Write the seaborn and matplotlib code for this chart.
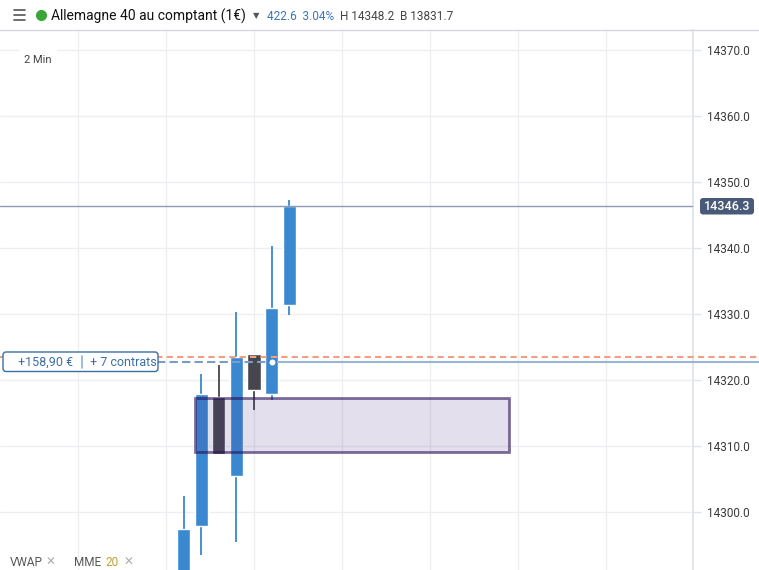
import numpy as np
import pandas as pd
import matplotlib
matplotlib.use("Agg")
import matplotlib.pyplot as plt
import seaborn as sns
from matplotlib.lines import Line2D
from matplotlib.patches import Rectangle, FancyBboxPatch

# Candle data (2 min bars)
candle_idx = [1, 2, 3, 4, 5, 6, 7]
opens = [14288.0, 14297.8, 14317.4, 14305.4, 14323.9, 14317.8, 14331.3]
closes = [14297.4, 14317.9, 14308.8, 14323.4, 14318.4, 14330.9, 14346.3]
highs = [14302.4, 14320.9, 14322.3, 14330.3, 14323.9, 14340.3, 14347.3]
lows = [14285.0, 14293.4, 14308.8, 14295.4, 14315.4, 14316.9, 14329.9]

price_ticks = [14300, 14310, 14320, 14330, 14340, 14350, 14360, 14370]
last_price = 14346.3
order_price = 14323.5
position_price = 14322.7
zone_x = [1.65, 19.5]
zone_y = [14309.1, 14317.2]

df = pd.DataFrame({"idx": candle_idx, "open": opens, "close": closes,
                   "high": highs, "low": lows})
df["up"] = df["close"] >= df["open"]

BLUE = "#3a88cf"
DARK = "#46464f"
W, H = 759, 570

sns.set_theme(style="white")
plt.rcParams["font.family"] = ["Roboto", "DejaVu Sans"]

fig = plt.figure(figsize=(7.59, 5.70), dpi=100)
ax = fig.add_axes([0, 0, 693 / W, 540 / H])
ax.set_xlim(-9.43, 29.94)
ax.set_ylim(14291.2, 14373.0)

# pixel helper (inches from bottom-left)
def px_box(x0, y0, x1, y1, **kw):
    p = FancyBboxPatch((x0 / 100, (H - y1) / 100), (x1 - x0) / 100, (y1 - y0) / 100,
                       transform=fig.dpi_scale_trans, **kw)
    fig.add_artist(p)
    return p

# grid
for gx in range(-5, 30, 5):
    ax.axvline(gx, color="#eeeff2", lw=1, zorder=0)
for gy in price_ticks:
    ax.axhline(gy, color="#eeeff2", lw=1, zorder=0)

# candles
colors = [BLUE if u else DARK for u in df["up"]]
ax.vlines(df["idx"], df["low"], df["high"], colors=colors, lw=1.3, zorder=2)
bottoms = np.minimum(df["open"], df["close"])
heights = np.abs(df["close"] - df["open"])
ax.bar(df["idx"], heights, bottom=bottoms, width=0.74, color=colors, zorder=3)

# zone rectangle
rect = Rectangle((zone_x[0], zone_y[0]), zone_x[1] - zone_x[0], zone_y[1] - zone_y[0],
                 facecolor=(68 / 255, 42 / 255, 136 / 255, 0.15),
                 edgecolor=(40 / 255, 15 / 255, 90 / 255, 0.6), lw=2, zorder=4)
ax.add_patch(rect)

# price lines
ax.plot([-9.43, 29.94], [last_price, last_price], color="#8a9bb5", lw=1, zorder=5)
ax.plot([-9.43, 33.8], [order_price, order_price], color="#f0a080", lw=1.5,
        ls=(0, (3, 2)), clip_on=False, zorder=5)
ax.plot([-0.5, 6.05], [position_price, position_price], color="#7a9cc6", lw=1.5,
        ls=(0, (4, 2)), zorder=5)
ax.plot([6.05, 33.8], [position_price, position_price], color="#9ab5d5", lw=1.5,
        clip_on=False, zorder=5)
sns.scatterplot(x=[6.05], y=[position_price], s=30, color="white",
                edgecolor=BLUE, linewidth=1.2, zorder=6, ax=ax, legend=False)

# position label
px_box(3, 352, 158, 371.5, boxstyle="round,pad=0,rounding_size=0.03",
       fc="white", ec="#3b6ea5", lw=1, zorder=7)
fig.text(18 / W, 1 - 362 / H, "+158,90 €", ha="left", va="center", fontsize=9,
         color="#3b6ea5", zorder=8)
fig.add_artist(Line2D([82 / W, 82 / W], [1 - 356 / H, 1 - 368 / H], color="#8fb0d8",
                      lw=1.2, zorder=8))
fig.text(90 / W, 1 - 362 / H, "+ 7 contrats", ha="left", va="center", fontsize=9,
         color="#3b6ea5", zorder=8)

# axes styling
for side in ["left", "top", "bottom"]:
    ax.spines[side].set_visible(False)
ax.spines["right"].set_color("#e0e3eb")
ax.yaxis.tick_right()
ax.set_yticks(price_ticks)
ax.set_yticklabels([f"{p:.1f}" for p in price_ticks])
ax.tick_params(axis="y", length=6, width=1, color="#e0e3eb", pad=4,
               labelsize=8.5, labelcolor="#3a3a3a")
ax.set_xticks([])

# last price tag
px_box(700, 198, 754, 214.5, boxstyle="round,pad=0,rounding_size=0.03",
       fc="#485a78", ec="none", zorder=8)
fig.text(727 / W, 1 - 206.5 / H, "14346.3", ha="center", va="center", fontsize=9,
         color="white", fontweight="medium", zorder=9)

# interval label
ax.text(0.035, 14368.5, "2 Min", transform=ax.get_yaxis_transform(), ha="left",
        va="center", fontsize=8, color="#444444",
        bbox=dict(boxstyle="square,pad=0.5", fc="white", ec="none"))

# header
fig.add_artist(Line2D([0, 1], [1 - 30 / H, 1 - 30 / H], color="#d6d8dc", lw=1))
for yy in (10, 15, 19.5):
    fig.add_artist(Line2D([14 / W, 25 / W], [1 - yy / H, 1 - yy / H], color="#555555", lw=1.2))
fig.add_artist(Line2D([41 / W], [1 - 15 / H], marker="o", ms=7, color="#3aa63a", lw=0))
fig.text(51 / W, 1 - 16 / H, "Allemagne 40 au comptant (1€)", ha="left", va="center",
         fontsize=10, color="#111111")
fig.text(256 / W, 1 - 16 / H, "▼", ha="center", va="center", fontsize=6,
         color="#555555", family="DejaVu Sans")
fig.text(267 / W, 1 - 16 / H, "422.6  3.04%", ha="left", va="center", fontsize=8.5,
         color="#3b74b8")
fig.text(340 / W, 1 - 16 / H, "H 14348.2  B 13831.7", ha="left", va="center",
         fontsize=8.5, color="#444444")

# indicator legend at bottom
yb = 1 - 569 / H
fig.text(10 / W, yb, "VWAP", ha="left", va="bottom", fontsize=8.5, color="#555555")
fig.text(46 / W, yb, "✕", ha="left", va="bottom", fontsize=8.5, color="#aaaaaa")
fig.text(74 / W, yb, "MME", ha="left", va="bottom", fontsize=8.5, color="#555555")
fig.text(105 / W, yb, "20", ha="left", va="bottom", fontsize=8.5, color="#c0a030")
fig.text(124 / W, yb, "✕", ha="left", va="bottom", fontsize=8.5, color="#aaaaaa")

fig.savefig("out.png", dpi=100)
